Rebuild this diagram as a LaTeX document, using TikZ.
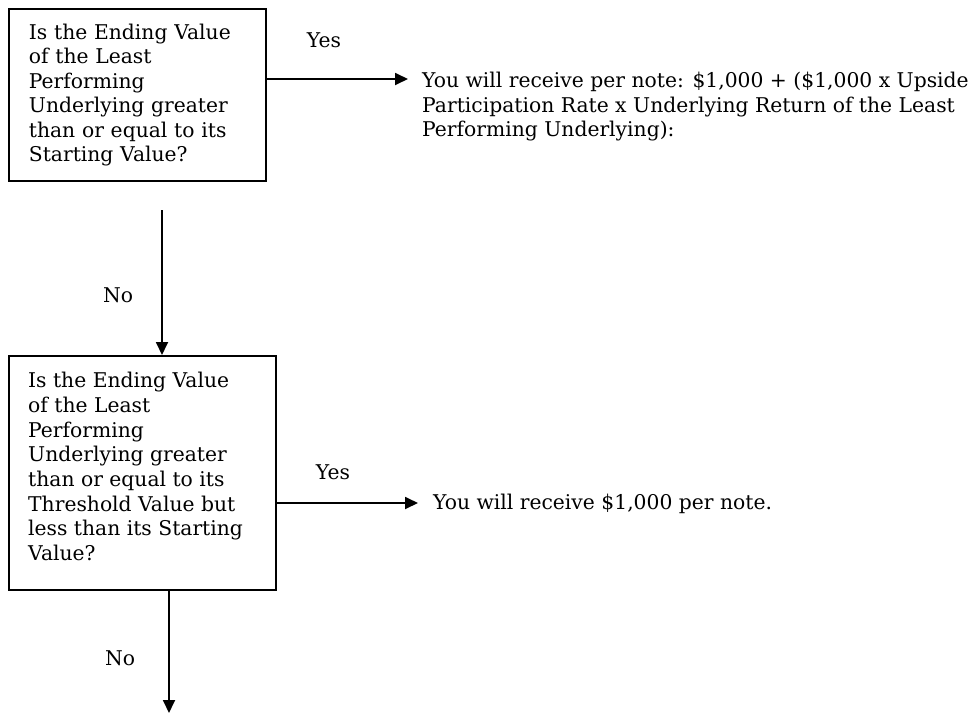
\documentclass[tikz,border=0pt]{standalone}
\usepackage{fontspec}
\setmainfont{DejaVu Serif}
\usetikzlibrary{arrows.meta}
\begin{document}
\begin{tikzpicture}[x=1pt,y=-1pt,
  txt/.style={font=\fontsize{20.3}{24.5}\selectfont, inner sep=0pt, align=left},
  qbox/.style={txt, draw, line width=1.8pt, anchor=north west, inner xsep=20pt, inner ysep=0pt},
  lbl/.style={font=\fontsize{20.3}{24}\selectfont, inner sep=0pt},
  arr/.style={line width=1.8pt, -{Triangle[length=13pt,width=12pt]}}]
\fill[white] (0,0) rectangle (972,715);
\useasboundingbox (0,0) rectangle (972,715);

\node[qbox, text width=217pt, minimum height=172pt] (q1) at (8,8)
  {Is the Ending Value\\ of the Least\\ Performing\\ Underlying greater\\ than or equal to its\\ Starting Value?};

\node[qbox, minimum width=267pt, minimum height=234pt] (q2) at (8,355) {};
\node[txt, font=\fontsize{20.3}{24.7}\selectfont, anchor=north west] (q2t) at (28,372)
  {Is the Ending Value\\ of the Least\\ Performing\\ Underlying greater\\ than or equal to its\\ Threshold Value but\\ less than its Starting\\ Value?};

\node[txt, anchor=north west] (r1) at (422,72)
  {You will receive per note: \$1,000 + (\$1,000 x Upside\\ Participation Rate x Underlying Return of the Least\\ Performing Underlying):};

\node[txt, anchor=west] (r2) at (433,504) {You will receive \$1,000 per note.};

\coordinate (e1) at (408,79);
\coordinate (e2) at (418,503);
\coordinate (s2) at (162,210);
\coordinate (e3) at (169,713);

\draw[arr] (q1.east |- e1) -- (e1);
\draw[arr] (s2) -- (s2 |- q2.north);
\draw[arr] (q2.east |- e2) -- (e2);
\draw[arr] (e3 |- q2.south) -- (e3);

\node[lbl] (yes1) at (324,40) {Yes};
\node[lbl] (no1) at (118,295) {No};
\node[lbl] (yes2) at (333,472) {Yes};
\node[lbl] (no2) at (120,658) {No};
\end{tikzpicture}
\end{document}
